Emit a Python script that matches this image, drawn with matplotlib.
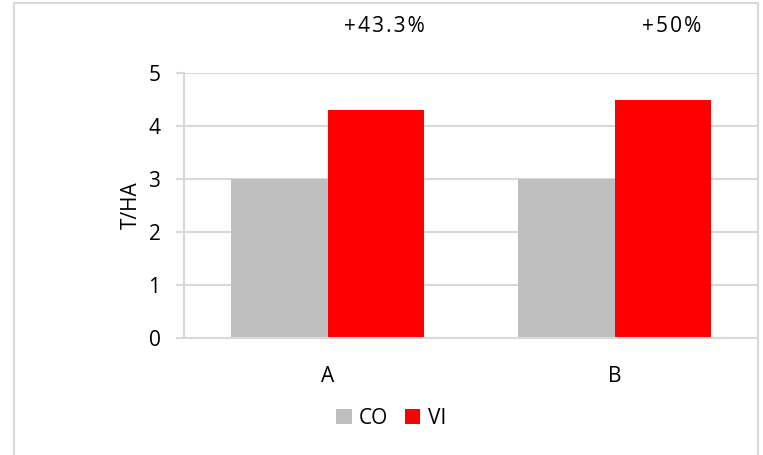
import numpy as np
import matplotlib.pyplot as plt
from matplotlib.lines import Line2D

plt.rcParams['font.family'] = ['Open Sans', 'DejaVu Sans']

categories = ['A', 'B']
co_values = [3, 3]
vi_values = [4.3, 4.5]
gains = ['+43.3%', '+50%']

grid_col = '#D9D9D9'

fig = plt.figure(figsize=(7.63, 4.55), dpi=100)
ax = fig.add_axes([184 / 763, 1 - 338 / 455, 574 / 763, 265 / 455])

x = np.arange(len(categories))
w = 0.335
ax.bar(x - w / 2, co_values, w, color='#BFBFBF', label='CO', zorder=2)
ax.bar(x + w / 2, vi_values, w, color='#FF0000', label='VI', zorder=2)

# Excel-style spaced-out labels
for xi, v, g in zip(x, vi_values, gains):
    spaced = '\u200a'.join(g)
    ax.text(xi + w / 2 + 0.03, 5.87, spaced, ha='center', va='center', fontsize=15,
            clip_on=False)

ax.set_xlim(-0.5, 1.5)
ax.set_ylim(0, 5)
ax.set_yticks(range(6))
ax.set_xticks(x)
ax.set_xticklabels(categories)
ax.yaxis.grid(True, color=grid_col, linewidth=1.5, zorder=0)
ax.set_axisbelow(True)
for s in ['top', 'right']:
    ax.spines[s].set_visible(False)
ax.spines['left'].set_color(grid_col)
ax.spines['bottom'].set_color(grid_col)
ax.spines['left'].set_linewidth(1.5)
ax.spines['bottom'].set_linewidth(1.5)
ax.tick_params(axis='y', length=6, width=1.5, color=grid_col, pad=11, labelsize=15)
ax.tick_params(axis='x', length=0, pad=20, labelsize=15)
ax.set_ylabel('T/HA', fontsize=15, labelpad=5)

ax.legend(loc='center', bbox_to_anchor=(391 / 763, 1 - 418 / 455),
          bbox_transform=fig.transFigure, ncol=2, frameon=False, fontsize=15,
          handlelength=0.75, handleheight=0.75, handletextpad=0.35, columnspacing=0.8)

# chart border
for xs, ys in [([14, 14], [455, 3]), ([14, 758], [3, 3]), ([758, 758], [3, 455])]:
    fig.add_artist(Line2D([v / 763 for v in xs], [1 - v / 455 for v in ys],
                          color=grid_col, linewidth=1.5))

fig.savefig('out.png', dpi=100)
